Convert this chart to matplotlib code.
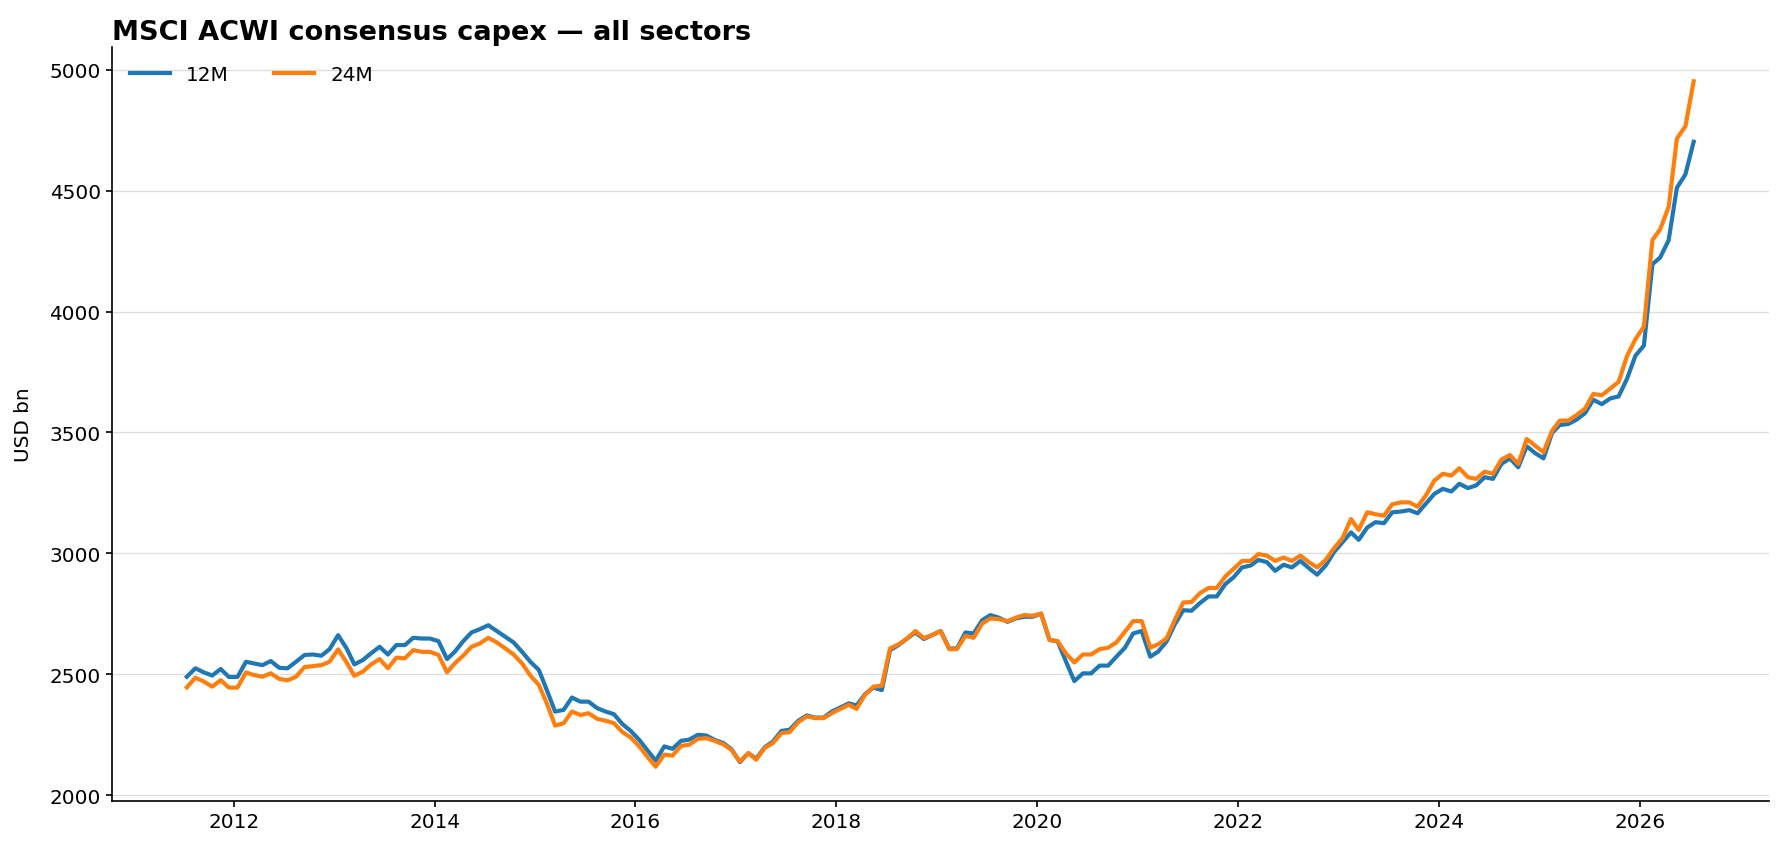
import numpy as np
import pandas as pd
import matplotlib
matplotlib.use("Agg")
import matplotlib.pyplot as plt

# monthly consensus capex, USD bn
start_month = "2011-07-01"
n_months = 181

capex_12m = [
    2490, 2525, 2508, 2495, 2522, 2489, 2489, 2552, 2545, 2538,
    2555, 2527, 2525, 2552, 2580, 2582, 2577, 2604, 2662, 2607,
    2541, 2559, 2587, 2614, 2582, 2621, 2621, 2651, 2648, 2648,
    2637, 2563, 2593, 2637, 2673, 2687, 2703, 2679, 2655, 2632,
    2593, 2552, 2518, 2429, 2346, 2353, 2404, 2387, 2387, 2360,
    2346, 2335, 2294, 2266, 2229, 2184, 2143, 2202, 2192, 2225,
    2230, 2250, 2247, 2229, 2216, 2191, 2137, 2174, 2151, 2198,
    2222, 2266, 2271, 2308, 2330, 2321, 2321, 2346, 2363, 2380,
    2371, 2418, 2445, 2435, 2600, 2621, 2648, 2673, 2646, 2662,
    2679, 2607, 2607, 2673, 2669, 2724, 2745, 2734, 2717, 2731,
    2738, 2738, 2751, 2642, 2637, 2552, 2472, 2504, 2504, 2536,
    2536, 2573, 2610, 2669, 2679, 2573, 2593, 2635, 2706, 2765,
    2763, 2795, 2822, 2822, 2873, 2901, 2942, 2950, 2973, 2964,
    2928, 2953, 2942, 2969, 2939, 2912, 2950, 3005, 3046, 3087,
    3056, 3107, 3129, 3125, 3170, 3173, 3179, 3166, 3207, 3246,
    3267, 3256, 3288, 3270, 3281, 3315, 3308, 3370, 3393, 3356,
    3443, 3415, 3393, 3498, 3531, 3535, 3553, 3580, 3635, 3617,
    3641, 3649, 3723, 3817, 3859, 4196, 4223, 4295, 4512, 4567,
    4702,
]

capex_24m = [
    2446, 2486, 2470, 2449, 2476, 2445, 2445, 2508, 2497, 2490,
    2504, 2481, 2475, 2490, 2530, 2534, 2538, 2552, 2603, 2549,
    2494, 2511, 2541, 2563, 2525, 2569, 2566, 2600, 2593, 2593,
    2580, 2508, 2545, 2577, 2614, 2628, 2651, 2632, 2607, 2582,
    2545, 2495, 2456, 2374, 2288, 2298, 2346, 2332, 2339, 2316,
    2308, 2298, 2261, 2239, 2202, 2157, 2118, 2168, 2164, 2204,
    2209, 2233, 2236, 2225, 2211, 2188, 2140, 2174, 2147, 2195,
    2216, 2257, 2261, 2302, 2326, 2319, 2319, 2339, 2357, 2374,
    2357, 2415, 2449, 2453, 2607, 2624, 2648, 2679, 2650, 2662,
    2679, 2604, 2604, 2659, 2651, 2710, 2731, 2728, 2720, 2734,
    2745, 2742, 2751, 2642, 2637, 2586, 2549, 2582, 2582, 2604,
    2610, 2632, 2676, 2720, 2720, 2610, 2624, 2648, 2724, 2797,
    2799, 2836, 2857, 2857, 2905, 2936, 2969, 2969, 2997, 2991,
    2969, 2983, 2969, 2991, 2964, 2942, 2973, 3021, 3063, 3142,
    3097, 3170, 3162, 3156, 3203, 3211, 3211, 3193, 3241, 3301,
    3329, 3322, 3352, 3315, 3308, 3338, 3329, 3388, 3407, 3370,
    3473, 3446, 3418, 3507, 3549, 3549, 3572, 3599, 3659, 3654,
    3682, 3709, 3817, 3885, 3938, 4295, 4340, 4432, 4715, 4766,
    4952,
]

dates = pd.date_range(start_month, periods=n_months, freq="MS") + pd.Timedelta(days=14)

fig = plt.figure(figsize=(17.84, 8.53), dpi=100)
ax = fig.add_axes([0.0625, 0.0598, 0.9291, 0.8839])

ax.plot(dates, capex_12m, color="#1f77b4", lw=3.0, label="12M")
ax.plot(dates, capex_24m, color="#ff7f0e", lw=3.0, label="24M")

ax.set_yticks(np.arange(2000, 5001, 500))
ax.grid(axis="y", color="#dddddd", lw=0.9)
ax.set_axisbelow(True)
ax.spines["top"].set_visible(False)
ax.spines["right"].set_visible(False)
ax.spines["left"].set_linewidth(1.2)
ax.spines["bottom"].set_linewidth(1.2)
ax.tick_params(labelsize=14.4, width=1.2, length=4.2)
ax.set_ylabel("USD bn", fontsize=14.4, labelpad=12)
ax.set_title("MSCI ACWI consensus capex \u2014 all sectors", loc="left",
             fontsize=19.5, fontweight="bold")
ax.legend(loc="upper left", ncol=2, frameon=False, fontsize=14.4,
          columnspacing=2.3)

fig.savefig("out.png", dpi=100)
